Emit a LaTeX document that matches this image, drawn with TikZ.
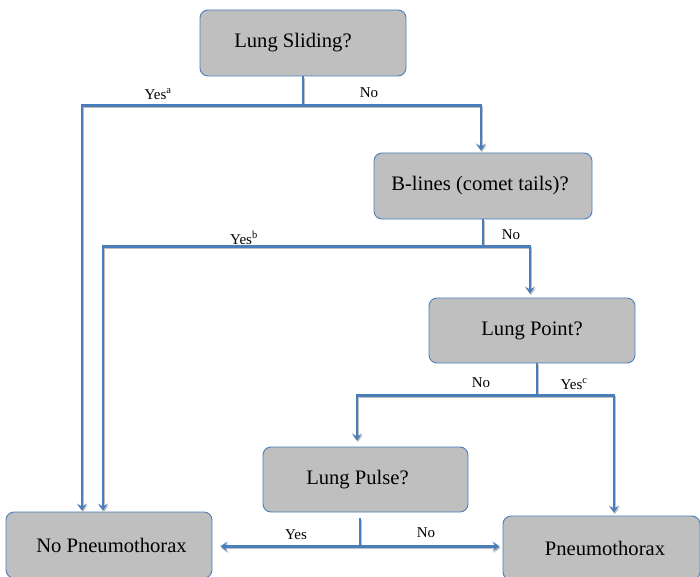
\documentclass[tikz,border=0pt]{standalone}
\usepackage{fontspec}
\setmainfont{Liberation Serif}
\usetikzlibrary{arrows.meta}
\definecolor{lnblue}{HTML}{4A7EBB}
\definecolor{boxgray}{HTML}{BFBFBF}
\tikzset{
  box/.style={draw=lnblue, line width=0.9pt, fill=boxgray, rounded corners=8pt, font=\fontsize{20.6}{23}\selectfont, inner sep=0pt},
  conn/.style={draw=lnblue, line width=2.6pt, preaction={draw=black!25, line width=2.6pt, transform canvas={shift={(0.8pt,-1.6pt)}}}},
  arr/.style={conn, -{Stealth[length=7pt,width=10pt,inset=3pt]}},
  lbl/.style={font=\fontsize{15}{17}\selectfont, inner sep=0pt},
}
\begin{document}
\begin{tikzpicture}[x=1pt,y=1pt]
\useasboundingbox (0,0) rectangle (700,-577);
\node[box, minimum width=206pt, minimum height=66pt] (LS) at (303,-43) {\hspace*{-20pt}Lung Sliding?};
\node[box, minimum width=218pt, minimum height=66pt] (BL) at (483,-186) {\hspace*{-6pt}B-lines (comet tails)?};
\node[box, minimum width=206pt, minimum height=65pt] (LP) at (532,-330.5) {Lung Point?};
\node[box, minimum width=205pt, minimum height=65pt] (LU) at (365.5,-479.5) {\hspace*{-16pt}Lung Pulse?};
\node[box, minimum width=206pt, minimum height=66pt] (NP) at (109,-545) {\hspace*{5pt}No Pneumothorax};
\node[box, minimum width=197pt, minimum height=64pt] (PT) at (601.5,-548) {\hspace*{7pt}Pneumothorax};

% Lung Sliding
\draw[conn] (LS.south) -- ++(0,-29) coordinate (s1);
\draw[arr, shorten >=1pt] (s1) -| ([xshift=-27pt]NP.north);
\draw[arr, shorten >=2pt] (s1) -| ([xshift=-2pt]BL.north);
% B-lines
\draw[conn] (BL.south) -- ++(0,-27) coordinate (s2);
\draw[arr, shorten >=1pt] (s2) -| ([xshift=-6pt]NP.north);
\draw[arr, shorten >=4pt] (s2) -| ([xshift=-2pt]LP.north);
% Lung Point
\draw[conn] ([xshift=5pt]LP.south) -- ++(0,-32) coordinate (s3);
\draw[arr, shorten >=6pt] (s3) -| ([xshift=-8.5pt]LU.north);
\draw[arr, shorten >=3pt] (s3) -| ([xshift=12.5pt]PT.north);
% Lung Pulse
\draw[conn] ([xshift=-5.5pt,yshift=-6pt]LU.south) -- ++(0,-28) coordinate (s4);
\draw[arr, shorten >=8pt] (s4) -- (s4 -| NP.east);
\draw[arr, shorten >=3pt] (s4) -- (s4 -| PT.west);

% labels
\node[lbl] (l1) at (158,-94) {Yes\textsuperscript{a}};
\node[lbl] (l2) at (369,-93) {No};
\node[lbl] (l3) at (244,-238) {Yes\textsuperscript{b}};
\node[lbl] (l4) at (511,-235) {No};
\node[lbl] (l5) at (481,-383) {No};
\node[lbl] (l6) at (574,-384) {Yes\textsuperscript{c}};
\node[lbl] (l7) at (296,-535) {Yes};
\node[lbl] (l8) at (426,-533) {No};
\end{tikzpicture}
\end{document}
